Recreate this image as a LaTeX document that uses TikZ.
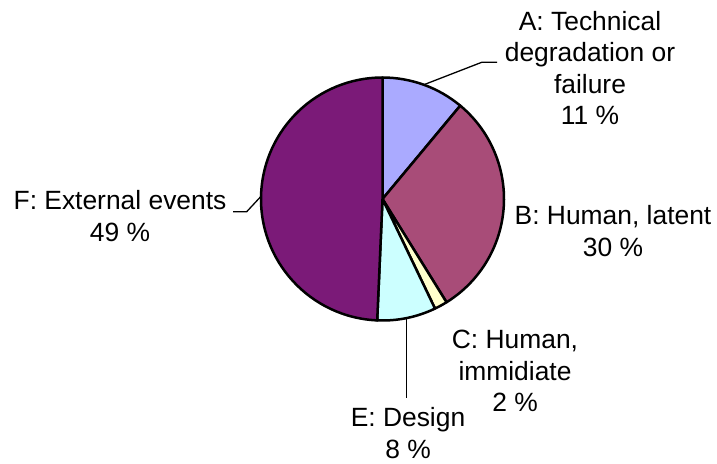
\documentclass[tikz,border=0pt]{standalone}
\usepackage{fontspec}
\setmainfont{Liberation Sans}
\usepackage{tikz}

\definecolor{techblue}{HTML}{AAAAFF}
\definecolor{latentred}{HTML}{A84C78}
\definecolor{immcream}{HTML}{FFFFCC}
\definecolor{designcyan}{HTML}{CCFFFF}
\definecolor{extpurple}{HTML}{7B1A78}

\begin{document}
\begin{tikzpicture}[
		x=0.5pt, y=0.5pt,
		slice/.style={draw=black, line width=1.25pt, line join=round},
		pielabel/.style={align=center, inner sep=0pt, font=\fontsize{13.2}{15.7}\selectfont},
		leader/.style={draw=black, line width=0.65pt}
	]
  \useasboundingbox (0,0) rectangle (717,463);
  \coordinate (o) at (382.5,264);
  % slices, clockwise from the top
  \draw[slice, fill=techblue] (o) -- ++(90:121.5) arc[start angle=90, end angle=50.2, radius=121.5] -- cycle;
  \draw[slice, fill=latentred] (o) -- ++(50.2:121.5) arc[start angle=50.2, end angle=-58.2, radius=121.5] -- cycle;
  \draw[slice, fill=immcream] (o) -- ++(-58.2:121.5) arc[start angle=-58.2, end angle=-64.4, radius=121.5] -- cycle;
  \draw[slice, fill=designcyan] (o) -- ++(-64.4:121.5) arc[start angle=-64.4, end angle=-92.5, radius=121.5] -- cycle;
  \draw[slice, fill=extpurple] (o) -- ++(-92.5:121.5) arc[start angle=-92.5, end angle=-270, radius=121.5] -- cycle;
  % labels
  \node (tech) [pielabel] at (590,395) {A: Technical\\degradation or\\failure\\11 \%};
  \node (latent) [pielabel] at (613,232) {B: Human, latent\\30 \%};
  \node (imm) [pielabel] at (515,92) {C: Human,\\immidiate\\2 \%};
  \node (design) [pielabel] at (408,30) {E: Design\\8 \%};
  \node (ext) [pielabel] at (120,247) {F: External events\\49 \%};
  % leader lines
  \coordinate (tech-pin) at (423.9,378.3);
  \coordinate (tech-bend) at (481.7,400.7);
  \coordinate (tech-end) at (497,400.7);
  \coordinate (design-pin) at (406.8,145);
  \coordinate (design-end) at (406.8,65);
  \coordinate (ext-pin) at (261,266.7);
  \coordinate (ext-bend) at (246.7,251.3);
  \coordinate (ext-end) at (233,251.3);
  \draw[leader] (tech-pin) -- (tech-bend) -- (tech-end);
  \draw[leader] (design-pin) -- (design-end);
  \draw[leader] (ext-pin) -- (ext-bend) -- (ext-end);
\end{tikzpicture}
\end{document}
